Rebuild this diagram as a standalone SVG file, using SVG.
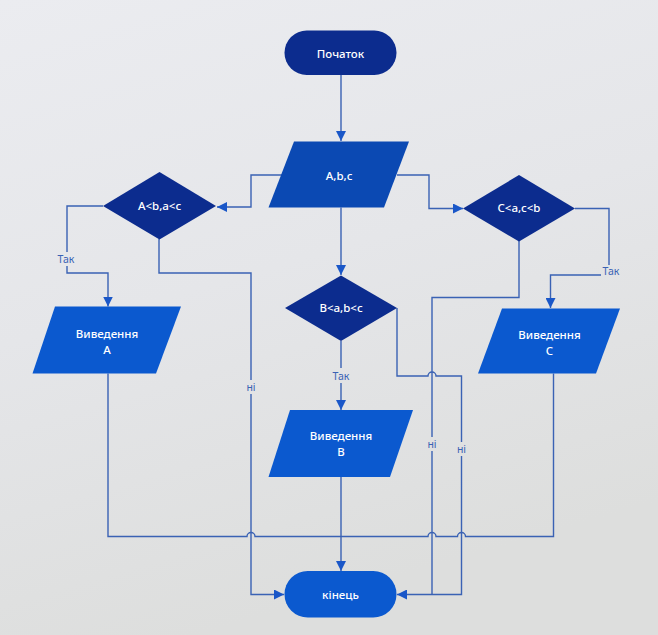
<svg xmlns="http://www.w3.org/2000/svg" width="658" height="635" viewBox="0 0 658 635">
<defs>
<linearGradient id="bg" x1="0" y1="0" x2="0.3" y2="1">
<stop offset="0" stop-color="#ebecf0"/>
<stop offset="0.5" stop-color="#e5e6e9"/>
<stop offset="1" stop-color="#dddedd"/>
</linearGradient>
<marker id="arr" viewBox="0 0 10 10" refX="10" refY="5" markerWidth="10" markerHeight="10" markerUnits="userSpaceOnUse" orient="auto">
<path d="M0,0 L10,5 L0,10 z" fill="#1a57c8"/>
</marker>
<style>
.ln{fill:none;stroke:#3a62b4;stroke-width:1.4}
.dk{fill:#0c2c8e}
.md{fill:#0b49b3}
.lt{fill:#0b59cf}
.tx{font-family:"Noto Sans","Open Sans",sans-serif;font-size:11.5px;font-weight:500;fill:#ffffff;text-anchor:middle;dominant-baseline:central}
.lb{font-family:"Noto Sans","Open Sans",sans-serif;font-size:10.5px;fill:#3a62b4;text-anchor:middle;dominant-baseline:central}
</style>
</defs>
<rect width="658" height="635" fill="url(#bg)"/>

<g id="connectors">
<path class="ln" d="M341,75 V141" marker-end="url(#arr)"/>
<path class="ln" d="M282,175 H251 V207 H217" marker-end="url(#arr)"/>
<path class="ln" d="M397,175 H429 V208.5 H463" marker-end="url(#arr)"/>
<path class="ln" d="M341,207.5 V275" marker-end="url(#arr)"/>
<path class="ln" d="M103,206 H67 V252"/>
<path class="ln" d="M67,266 V273 H108 V306.5" marker-end="url(#arr)"/>
<path class="ln" d="M159,239 V273 H251 V380"/>
<path class="ln" d="M251,394 V594.5 H284" marker-end="url(#arr)"/>
<path class="ln" d="M575,208.5 H609 V265"/>
<path class="ln" d="M601,275 H550.5 V308" marker-end="url(#arr)"/>
<path class="ln" d="M519,241 V297.5 H432 V437"/>
<path class="ln" d="M432,451 V594.5"/>
<path class="ln" d="M341,341 V368"/>
<path class="ln" d="M341,383 V410" marker-end="url(#arr)"/>
<path class="ln" d="M397,308 V376 H428 a4,4 0 0 1 8,0 H461.5 V442"/>
<path class="ln" d="M461.5,456 V594.5 H397" marker-end="url(#arr)"/>
<path class="ln" d="M108,373.5 V536.5 H247 a4,4 0 0 1 8,0 H428 a4,4 0 0 1 8,0 H457.5 a4,4 0 0 1 8,0 H553.5 V373.5"/>
<path class="ln" d="M341,477 V571" marker-end="url(#arr)"/>
<text class="lb" x="66" y="259">Так</text>
<text class="lb" x="251" y="387">ні</text>
<text class="lb" x="611" y="271">Так</text>
<text class="lb" x="341" y="375.5">Так</text>
<text class="lb" x="432" y="444">ні</text>
<text class="lb" x="461.5" y="449">ні</text>
</g>

<g id="start">
<rect class="dk" x="284.5" y="30.5" width="112" height="44.5" rx="22.25"/>
<text class="tx" x="340.5" y="53">Початок</text>
</g>

<g id="input">
<polygon class="md" points="294,141.5 409,141.5 384,207.5 268.5,207.5"/>
<text class="tx" x="339" y="175">A,b,c</text>
</g>

<g id="decA">
<polygon class="dk" points="159.5,172 216,206 159.5,239.5 103,206"/>
<text class="tx" x="159.5" y="205">A&lt;b,a&lt;c</text>
</g>

<g id="decB">
<polygon class="dk" points="341,275.5 397,308 341,341 285,308"/>
<text class="tx" x="341" y="307">B&lt;a,b&lt;c</text>
</g>

<g id="decC">
<polygon class="dk" points="519,175 575,208.5 519,241.5 463,208.5"/>
<text class="tx" x="519" y="207">C&lt;a,c&lt;b</text>
</g>

<g id="outA">
<polygon class="lt" points="55,306.5 181,306.5 156,373.5 32.5,373.5"/>
<text class="tx" x="107" y="333">Виведення</text>
<text class="tx" x="107" y="349.5">A</text>
</g>

<g id="outB">
<polygon class="lt" points="290,410 413,410 390,477 268.5,477"/>
<text class="tx" x="341" y="435.5">Виведення</text>
<text class="tx" x="341" y="451">B</text>
</g>

<g id="outC">
<polygon class="lt" points="502,308.5 620,308.5 596,373.5 478,373.5"/>
<text class="tx" x="549.5" y="334.5">Виведення</text>
<text class="tx" x="549.5" y="350.5">C</text>
</g>

<g id="end">
<rect class="lt" x="284.5" y="571" width="112" height="46.5" rx="23.25"/>
<text class="tx" x="340.5" y="594">кінець</text>
</g>
</svg>
